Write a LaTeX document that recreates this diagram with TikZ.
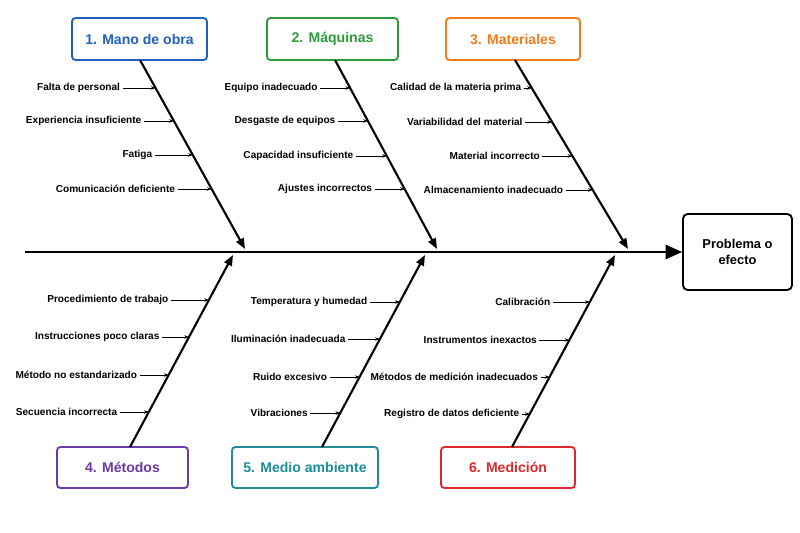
\documentclass[tikz,border=0pt]{standalone}
\usepackage{fontspec}
\setmainfont{Liberation Sans}
\usetikzlibrary{calc,arrows.meta}
\definecolor{cblue}{HTML}{1F5FBF}
\definecolor{cgreen}{HTML}{2E9A3A}
\definecolor{corange}{HTML}{F07C1E}
\definecolor{cpurple}{HTML}{6A3AA8}
\definecolor{cteal}{HTML}{1F8C9A}
\definecolor{cred}{HTML}{E0282C}
\begin{document}
\begin{tikzpicture}[x=0.03cm,y=-0.03cm,
  cat/.style={draw=#1,line width=1.6pt,rounded corners=3pt,text=#1,font=\bfseries\fontsize{12}{14}\selectfont,inner sep=0pt},
  bone/.style={line width=1.8pt,-{Triangle[length=9pt,width=7pt]}},
  sub/.style={-{Stealth[length=4pt,width=3pt]},line width=0.6pt},
  lab/.style={font=\bfseries\fontsize{8.6}{10}\selectfont,anchor=east,inner sep=2pt}]
\useasboundingbox (0,0) rectangle (800,533);
\coordinate (s0) at (25,252);
\node[draw,line width=1.6pt,rounded corners=4pt,minimum width=109*0.03cm,minimum height=76*0.03cm,align=center,font=\bfseries\fontsize{11}{13}\selectfont] (eff) at (737.5,252) {Problema o\\efecto};
\draw[line width=2.2pt,-{Triangle[length=14pt,width=12pt]}] (s0) -- (eff.west);
\node[cat=cblue,minimum width=135*0.03cm,minimum height=42*0.03cm] (c1) at (139.5,39) {1. Mano de obra};
\node[cat=cgreen,minimum width=131*0.03cm,minimum height=42*0.03cm] (c2) at (332.5,39) {2. Máquinas};
\node[cat=corange,minimum width=134*0.03cm,minimum height=42*0.03cm] (c3) at (513,39) {3. Materiales};
\node[cat=cpurple,minimum width=131*0.03cm,minimum height=41*0.03cm] (c4) at (122.5,467.5) {4. Métodos};
\node[cat=cteal,minimum width=146*0.03cm,minimum height=41*0.03cm] (c5) at (305,467.5) {5. Medio ambiente};
\node[cat=cred,minimum width=134*0.03cm,minimum height=41*0.03cm] (c6) at (508,467.5) {6. Medición};
\coordinate (e1) at (245,249); \coordinate (e2) at (437,249); \coordinate (e3) at (628,249);
\coordinate (e4) at (233,255); \coordinate (e5) at (425,255); \coordinate (e6) at (615,255);
\coordinate (b1) at (140,60); \coordinate (b2) at (335,60); \coordinate (b3) at (515,60);
\coordinate (b4) at (130,447); \coordinate (b5) at (322,447); \coordinate (b6) at (512,447);
\foreach \i in {1,...,6} \draw[bone] (b\i) -- (e\i);
\foreach \b/\y/\l/\t [count=\k] in {
 1/88/33/Falta de personal, 1/121/30/Experiencia insuficiente, 1/155/38/Fatiga, 1/189/34/Comunicación deficiente,
 2/88/30/Equipo inadecuado, 2/121/30/Desgaste de equipos, 2/156/31/Capacidad insuficiente, 2/189/30/Ajustes incorrectos,
 3/88/8/Calidad de la materia prima, 3/122/27/Variabilidad del material, 3/156/30/Material incorrecto, 3/190/27/Almacenamiento inadecuado,
 4/300/38/Procedimiento de trabajo, 4/337/27/Instrucciones poco claras, 4/375/29/Método no estandarizado, 4/412/29/Secuencia incorrecta,
 5/302/30/Temperatura y humedad, 5/339/32/Iluminación inadecuada, 5/377/30/Ruido excesivo, 5/413/30/Vibraciones,
 6/302/37/Calibración, 6/340/30/Instrumentos inexactos, 6/377/9/Métodos de medición inadecuados, 6/414/8/Registro de datos deficiente}{
  \ifnum\b<4 \pgfmathsetmacro\fr{(\y-60)/189}\else\pgfmathsetmacro\fr{(447-\y)/192}\fi
  \coordinate (t\k) at ($(b\b)!\fr!(e\b)$);
  \path (t\k) ++(-\l,0) coordinate (f\k);
  \node[lab] (n\k) at (f\k) {\t};
  \draw[sub] (f\k) -- (t\k);
}
\end{tikzpicture}
\end{document}
